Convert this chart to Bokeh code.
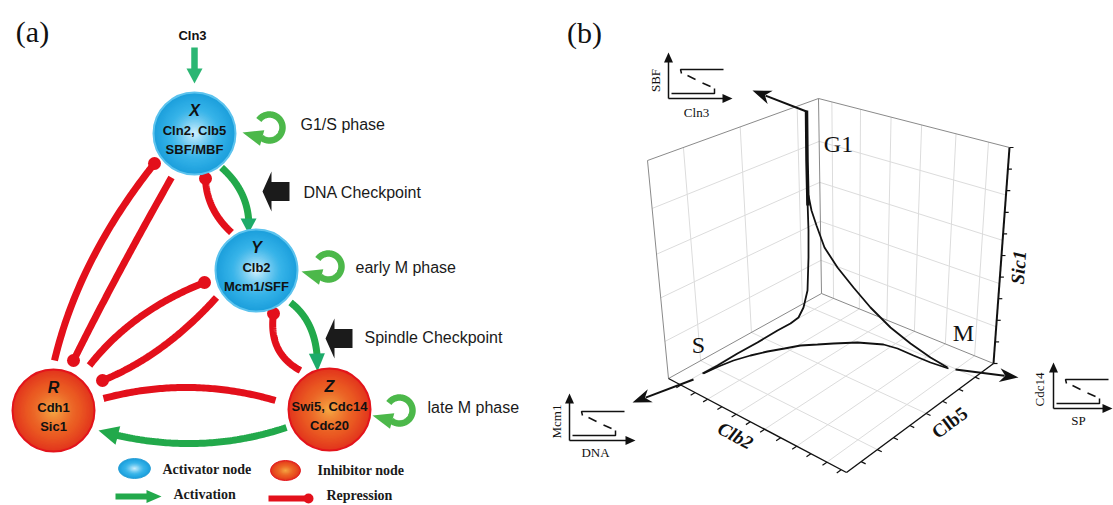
import numpy as np
from bokeh.plotting import figure
from bokeh.models import Range1d, ColumnDataSource
from bokeh.core.properties import value
from bokeh.embed import file_html
from bokeh.resources import INLINE

# ---------------------------------------------------------------- data
panel_labels = ["(a)", "(b)"]
panel_label_x = [32, 584]
panel_label_y = [31, 32]

node_names = ["X", "Y", "Z", "R"]
node_line1 = ["Cln2, Clb5", "Clb2", "Swi5, Cdc14", "Cdh1"]
node_line2 = ["SBF/MBF", "Mcm1/SFF", "Cdc20", "Sic1"]
node_kind = ["activator", "activator", "inhibitor", "inhibitor"]
node_x = [194, 256, 329, 53]
node_y = [133, 270, 409, 410]

input_label = "Cln3"
input_x, input_y = 192, 35

loop_x = [269, 328, 399]
loop_y = [127, 266, 410]
phase_labels = ["G1/S phase", "early M phase", "late M phase"]
phase_x = [300, 355, 427]
phase_y = [124, 267, 407]

checkpoint_labels = ["DNA Checkpoint", "Spindle Checkpoint"]
checkpoint_tip_x = [262, 325]
checkpoint_tip_y = [191, 338]
checkpoint_text_x = [303, 364]
checkpoint_text_y = [192, 337]

# activation edges (start, through, tip)
act_x0 = [194, 221, 290, 286]; act_y0 = [47, 167, 302, 427]
act_xm = [194, 243, 311, 193]; act_ym = [65, 197, 330, 443]
act_x1 = [194, 248, 317, 98];  act_y1 = [83, 233, 371, 430]
act_head_len = [15, 15, 18, 20]
act_head_hw = [8, 8, 8, 9.5]

# repression edges (start, through, end)
rep_x0 = [231, 300, 54, 171, 89, 216, 103]
rep_y0 = [232, 370, 360, 177, 365, 297, 398]
rep_xm = [212, 277, 91, 118, 139, 161, 189]
rep_ym = [207, 347, 260, 273, 317, 347, 387]
rep_x1 = [205, 273, 154, 73, 204, 102, 275]
rep_y1 = [178, 313, 163, 360, 282, 380, 400]
rep_blob = [True, True, True, True, True, True, False]

legend_labels = ["Activator node", "Inhibitor node", "Activation", "Repression"]
legend_text_x = [162, 317, 173, 326]
legend_text_y = [469, 470, 494, 495]

# panel (b): phase labels
phase_b_labels = ["G1", "S", "M"]
phase_b_x = [838, 698, 963]
phase_b_y = [143, 344, 332]

# trajectory
traj_thick_x = [806, 806.5, 807.5]
traj_thick_y = [110, 160, 205]
traj_left_x = [806, 806.5, 807, 808, 808, 807, 803, 798, 790, 777, 757, 737, 717, 702]
traj_left_y = [112, 160, 200, 230, 257, 290, 307, 317, 323, 330, 342, 353, 365, 373]
traj_bottom_x = [703, 718, 733, 750, 767, 784, 800, 817, 833, 857, 883, 897, 913, 930, 948]
traj_bottom_y = [373, 366, 360, 355, 351, 348, 345, 344, 343, 342, 344, 348, 355, 362, 368]
traj_right_x = [947, 930, 910, 890, 870, 853, 837, 824, 816, 811, 808]
traj_right_y = [367, 357, 343, 327, 307, 287, 267, 247, 225, 210, 195]

# arrows leaving the trajectory (start, tip)
out_x0 = [806, 693, 955]; out_y0 = [111, 379, 369]
out_x1 = [752, 632, 1018]; out_y1 = [90, 402, 377]

# 3-D box corners (Clb2, Clb5, Sic1)
box_corners = {
    (0, 0, 0): (821, 293), (1, 0, 0): (993, 363), (0, 1, 0): (668, 378), (1, 1, 0): (846, 472),
    (0, 0, 1): (818, 98), (1, 0, 1): (1009, 147), (0, 1, 1): (647, 160), (1, 1, 1): (843, 255),
}
clb2_ticks = [0.07, 0.15, 0.22, 0.30, 0.38, 0.46, 0.54, 0.63, 0.72, 0.80, 0.89, 0.97]
clb2_grid = [0.07, 0.22, 0.38, 0.54, 0.72, 0.89]
clb5_ticks = [0.125, 0.236, 0.347, 0.458, 0.569, 0.68, 0.79, 0.90]
clb5_grid = [0.125, 0.458, 0.79]
sic1_ticks = [0.0, 0.1, 0.2, 0.3, 0.4, 0.5, 0.6, 0.7, 0.8, 0.9, 1.0]
sic1_grid = [0.17, 0.37, 0.57, 0.78]
axis_labels = ["Clb2", "Clb5", "Sic1"]
axis_label_x = [735, 949, 1018]
axis_label_y = [435, 422, 267]
axis_label_angle = [-28, 37, 86]
axis_label_style = ["bold italic", "bold", "bold italic"]

# insets: corner, y-label, x-label
inset_x = [668, 569, 1053]
inset_y = [98, 440, 408]
inset_ylabel = ["SBF", "Mcm1", "Cdc14"]
inset_xlabel = ["Cln3", "DNA", "SP"]
inset_ylab_x = [655, 556, 1039]
inset_ylab_y = [80, 421, 389]
inset_xlab_x = [696, 595, 1078]
inset_xlab_y = [112, 452, 420]
inset_w = [64, 66, 59]
inset_h = [46, 47, 46]

# ---------------------------------------------------------------- figure
W, H = 1113, 505
p = figure(width=W, height=H, x_range=Range1d(0, W), y_range=Range1d(H, 0),
           output_backend="svg", toolbar_location=None, min_border=0,
           x_axis_location=None, y_axis_location=None)
p.grid.visible = False
p.outline_line_color = None
p.background_fill_color = "white"

SANS = value("Liberation Sans")
SERIF = value("Liberation Serif")

RED = "#e3101b"
GREEN = "#22a94b"
GREEN_HEAD = "#1dab6a"
LOOP_GREEN = "#4cb84a"


def hex2rgb(h):
    h = h.lstrip("#")
    return np.array([int(h[i:i + 2], 16) for i in (0, 2, 4)], float)


def mix(c1, c2, f):
    c = hex2rgb(c1) * (1 - f) + hex2rgb(c2) * f
    return "#%02x%02x%02x" % tuple(int(round(v)) for v in c)


def qbez(x0, y0, xm, ym, x1, y1, n=80):
    cx = 2 * xm - (x0 + x1) / 2
    cy = 2 * ym - (y0 + y1) / 2
    t = np.linspace(0, 1, n)
    xs = (1 - t) ** 2 * x0 + 2 * (1 - t) * t * cx + t ** 2 * x1
    ys = (1 - t) ** 2 * y0 + 2 * (1 - t) * t * cy + t ** 2 * y1
    return xs, ys


def trim_end(xs, ys, L):
    d = np.hypot(np.diff(xs), np.diff(ys))
    cum = np.concatenate([[0], np.cumsum(d)])
    target = cum[-1] - L
    i = int(np.searchsorted(cum, target))
    i = max(i, 1)
    f = (target - cum[i - 1]) / (cum[i] - cum[i - 1])
    bx = xs[i - 1] + f * (xs[i] - xs[i - 1])
    by = ys[i - 1] + f * (ys[i] - ys[i - 1])
    return np.append(xs[:i], bx), np.append(ys[:i], by), (bx, by)


def head(tip, base, hw, notch=0.0):
    tx, ty = tip
    bx, by = base
    L = np.hypot(tx - bx, ty - by)
    ux, uy = (tx - bx) / L, (ty - by) / L
    px, py = -uy, ux
    nx, ny = bx + ux * L * notch, by + uy * L * notch
    return ([tx, bx + px * hw, nx, bx - px * hw], [ty, by + py * hw, ny, by - py * hw])


# ---------------------------------------------------------------- panel (a)
# repression edges
for i in range(len(rep_x0)):
    xs, ys = qbez(rep_x0[i], rep_y0[i], rep_xm[i], rep_ym[i], rep_x1[i], rep_y1[i])
    p.line(xs, ys, line_color=RED, line_width=7, line_cap="butt")
bx = [rep_x1[i] for i in range(len(rep_x1)) if rep_blob[i]]
by = [rep_y1[i] for i in range(len(rep_y1)) if rep_blob[i]]
p.circle(bx, by, radius=6.5, fill_color=RED, line_color=None)

# activation edges
hx, hy, hc = [], [], []
for i in range(len(act_x0)):
    xs, ys = qbez(act_x0[i], act_y0[i], act_xm[i], act_ym[i], act_x1[i], act_y1[i])
    sx, sy, base = trim_end(xs, ys, act_head_len[i] - 1.5)
    col = "#2bb673" if i == 0 else GREEN
    p.line(sx, sy, line_color=col, line_width=6.5 if i == 0 else 7, line_cap="butt")
    _, _, base = trim_end(xs, ys, act_head_len[i])
    h_x, h_y = head((act_x1[i], act_y1[i]), base, act_head_hw[i])
    hx.append(h_x); hy.append(h_y)
    hc.append("#2bb673" if i == 0 else (GREEN_HEAD if i in (1, 2) else GREEN))
p.patches(hx, hy, fill_color=hc, line_color=None)

# self loops
lhx, lhy = [], []
for i in range(len(loop_x)):
    cx, cy, r = loop_x[i], loop_y[i], 13
    t = np.radians(np.linspace(215, 490, 80))
    p.line(cx + r * np.cos(t), cy + r * np.sin(t), line_color=LOOP_GREEN, line_width=6.5, line_cap="butt")
    endx, endy = cx + r * np.cos(t[-1]), cy + r * np.sin(t[-1])
    tip = (cx - 27, cy + 5)
    h_x, h_y = head(tip, (endx + 1, endy + 0.5), 8)
    lhx.append(h_x); lhy.append(h_y)
p.patches(lhx, lhy, fill_color=LOOP_GREEN, line_color=None)

# checkpoint block arrows
cbx, cby = [], []
for i in range(len(checkpoint_tip_x)):
    tx, ty = checkpoint_tip_x[i], checkpoint_tip_y[i]
    cbx.append([tx, tx + 9, tx + 9, tx + 27, tx + 27, tx + 9, tx + 9])
    cby.append([ty, ty - 20, ty - 9.5, ty - 9.5, ty + 9.5, ty + 9.5, ty + 20])
p.patches(cbx, cby, fill_color="#1b1b1b", line_color=None)

# nodes with radial shading
BLUE_EDGE, BLUE_MID, BLUE_CENTER = "#1c9fdc", "#34b2e8", "#d9f4ff"
ORG_EDGE, ORG_MID, ORG_CENTER = "#e2361d", "#ea5a22", "#f6ad45"


def shaded(cxs, cys, rxs, rys, kinds, n=30):
    X, Y, Wd, Ht, C = [], [], [], [], []
    for cx, cy, rx, ry, k in zip(cxs, cys, rxs, rys, kinds):
        e, m, c = (BLUE_EDGE, BLUE_MID, BLUE_CENTER) if k == "activator" else (ORG_EDGE, ORG_MID, ORG_CENTER)
        for j in range(n):
            s = j / n
            if s < 0.35:
                col = mix(e, m, s / 0.35)
            else:
                col = mix(m, c, ((s - 0.35) / 0.65) ** 1.3)
            X.append(cx); Y.append(cy); Wd.append(2 * rx * (1 - s)); Ht.append(2 * ry * (1 - s)); C.append(col)
    src = ColumnDataSource(dict(x=X, y=Y, w=Wd, h=Ht, c=C))
    p.ellipse("x", "y", width="w", height="h", fill_color="c", line_color=None, source=src)


shaded(node_x, node_y, [41] * 4, [41] * 4, node_kind)
outline_c = ["#5cc3ee" if k == "activator" else "#e3141b" for k in node_kind]
p.circle(node_x, node_y, radius=41, fill_color=None, line_color=outline_c, line_width=2)

# node texts
p.text(node_x, [y - 23 for y in node_y], text=node_names, text_font=SANS, text_font_style="bold italic",
       text_font_size="16px", text_align="center", text_baseline="middle", text_color="#111111")
p.text(node_x, [y - 3 for y in node_y], text=node_line1, text_font=SANS, text_font_style="bold",
       text_font_size="13px", text_align="center", text_baseline="middle", text_color="#111111")
p.text(node_x, [y + 16 for y in node_y], text=node_line2, text_font=SANS, text_font_style="bold",
       text_font_size="13px", text_align="center", text_baseline="middle", text_color="#111111")
p.text([input_x], [input_y], text=[input_label], text_font=SANS, text_font_style="bold",
       text_font_size="13px", text_align="center", text_baseline="middle", text_color="#111111")

p.text(phase_x, phase_y, text=phase_labels, text_font=SANS, text_font_size="16px",
       text_align="left", text_baseline="middle", text_color="#1a1a1a")
p.text(checkpoint_text_x, checkpoint_text_y, text=checkpoint_labels, text_font=SANS, text_font_size="16px",
       text_align="left", text_baseline="middle", text_color="#1a1a1a")

# legend
shaded([134, 285], [468, 470], [16, 15], [10, 10], ["activator", "inhibitor"], n=20)
p.ellipse([134, 285], [468, 470], width=[32, 30], height=[20, 20], fill_color=None,
          line_color=["#2a9fd6", "#e3141b"], line_width=1)
lx = np.array([115.0, 147.0])
p.line(lx, [496, 496], line_color=GREEN, line_width=6, line_cap="butt")
hx_, hy_ = head((161, 496), (146, 496), 6.5)
p.patch(hx_, hy_, fill_color=GREEN, line_color=None)
p.line([268, 308], [498, 498], line_color=RED, line_width=6, line_cap="butt")
p.circle([308], [498], radius=5, fill_color=RED, line_color=None)
p.text(legend_text_x, legend_text_y, text=legend_labels, text_font=SERIF, text_font_style="bold",
       text_font_size="14px", text_align="left", text_baseline="middle", text_color="#1a1a1a")

# panel labels
p.text(panel_label_x, panel_label_y, text=panel_labels, text_font=SERIF, text_font_size="30px",
       text_align="center", text_baseline="middle", text_color="#111111")

# ---------------------------------------------------------------- panel (b)


def proj(a, b, c):
    x = y = 0.0
    for (i, j, k), (px, py) in box_corners.items():
        w = (a if i else 1 - a) * (b if j else 1 - b) * (c if k else 1 - c)
        x += w * px
        y += w * py
    return x, y


def seg(p0, p1):
    a, b = proj(*p0), proj(*p1)
    return [a[0], b[0]], [a[1], b[1]]


gx, gy = [], []
for b in clb5_grid:
    for s in (seg((0, b, 0), (0, b, 1)), seg((0, b, 0), (1, b, 0))):
        gx.append(s[0]); gy.append(s[1])
for a in clb2_grid:
    for s in (seg((a, 0, 0), (a, 0, 1)), seg((a, 0, 0), (a, 1, 0))):
        gx.append(s[0]); gy.append(s[1])
for c in sic1_grid:
    for s in (seg((0, 0, c), (0, 1, c)), seg((0, 0, c), (1, 0, c))):
        gx.append(s[0]); gy.append(s[1])
p.multi_line(gx, gy, line_color="#dcdcdc", line_width=1)

ex, ey = [], []
for s in (seg((0, 0, 0), (0, 1, 0)), seg((0, 0, 0), (1, 0, 0)), seg((0, 0, 0), (0, 0, 1)),
          seg((0, 1, 0), (0, 1, 1)), seg((0, 1, 1), (0, 0, 1)), seg((0, 0, 1), (1, 0, 1))):
    ex.append(s[0]); ey.append(s[1])
p.multi_line(ex, ey, line_color="#8a8a8a", line_width=1)

ax_, ay_ = [], []
for s in (seg((0, 1, 0), (1, 1, 0)), seg((1, 1, 0), (1, 0, 0))):
    ax_.append(s[0]); ay_.append(s[1])
p.multi_line(ax_, ay_, line_color="#111111", line_width=1.4)
sx_, sy_ = seg((1, 0, 0), (1, 0, 1))
p.line(sx_, sy_, line_color="#111111", line_width=2)

tx_, ty_ = [], []
for a in clb2_ticks:
    s = seg((a, 1, 0), (a, 1.03, 0)); tx_.append(s[0]); ty_.append(s[1])
for b in clb5_ticks:
    s = seg((1, b, 0), (1.025, b, 0)); tx_.append(s[0]); ty_.append(s[1])
for c in sic1_ticks:
    x0, y0 = proj(1, 0, c); tx_.append([x0, x0 + 4]); ty_.append([y0, y0])
p.multi_line(tx_, ty_, line_color="#111111", line_width=1.2)

# trajectory
p.line(traj_left_x, traj_left_y, line_color="#111111", line_width=1.8)
p.line(traj_bottom_x, traj_bottom_y, line_color="#111111", line_width=1.8)
p.line(traj_right_x, traj_right_y, line_color="#111111", line_width=1.8)
p.line(traj_thick_x, traj_thick_y, line_color="#111111", line_width=3.5)

ohx, ohy = [], []
for i in range(len(out_x0)):
    xs = np.array([out_x0[i], out_x1[i]], float)
    ys = np.array([out_y0[i], out_y1[i]], float)
    sxs, sys_, base = trim_end(xs, ys, 14)
    p.line(sxs, sys_, line_color="#111111", line_width=2)
    _, _, base = trim_end(xs, ys, 19)
    h_x, h_y = head((out_x1[i], out_y1[i]), base, 7, notch=0.3)
    ohx.append(h_x); ohy.append(h_y)
p.patches(ohx, ohy, fill_color="#111111", line_color=None)

p.text(phase_b_x, phase_b_y, text=phase_b_labels, text_font=SERIF, text_font_size="24px",
       text_align="center", text_baseline="middle", text_color="#111111")
for i in range(3):
    p.text([axis_label_x[i]], [axis_label_y[i]], text=[axis_labels[i]], text_font=SERIF,
           text_font_style=axis_label_style[i], text_font_size="19px", angle=np.radians(axis_label_angle[i]),
           text_align="center", text_baseline="middle", text_color="#111111")

# insets
ilx, ily, iax, iay = [], [], [], []
for i in range(3):
    ox, oy, w, h = inset_x[i], inset_y[i], inset_w[i], inset_h[i]
    ilx += [[ox, ox], [ox, ox + w - 8]]
    ily += [[oy, oy - h + 8], [oy, oy]]
    iax.append(head((ox, oy - h), (ox, oy - h + 10), 4.5)[0])
    iay.append(head((ox, oy - h), (ox, oy - h + 10), 4.5)[1])
    iax.append(head((ox + w, oy), (ox + w - 10, oy), 4.5)[0])
    iay.append(head((ox + w, oy), (ox + w - 10, oy), 4.5)[1])
    # lower branch with right tick, upper branch with left tick
    ilx += [[ox + 3, ox + 46, ox + 46], [ox + 13, ox + 12, ox + 55]]
    ily += [[oy - 5, oy - 5, oy - 10], [oy - 25, oy - 29, oy - 29]]
p.multi_line(ilx, ily, line_color="#111111", line_width=1.5)
p.patches(iax, iay, fill_color="#111111", line_color=None)
dx_, dy_ = [], []
for i in range(3):
    ox, oy = inset_x[i], inset_y[i]
    dx_ += [[ox + 19, ox + 27], [ox + 34, ox + 42]]
    dy_ += [[oy - 23, oy - 19], [oy - 15.5, oy - 12]]
p.multi_line(dx_, dy_, line_color="#111111", line_width=1.5)
p.text(inset_ylab_x, inset_ylab_y, text=inset_ylabel, text_font=SERIF, text_font_size="13px",
       angle=np.pi / 2, text_align="center", text_baseline="middle", text_color="#111111")
p.text(inset_xlab_x, inset_xlab_y, text=inset_xlabel, text_font=SERIF, text_font_size="13px",
       text_align="center", text_baseline="middle", text_color="#111111")

open("out.html", "w").write(file_html(p, INLINE))
